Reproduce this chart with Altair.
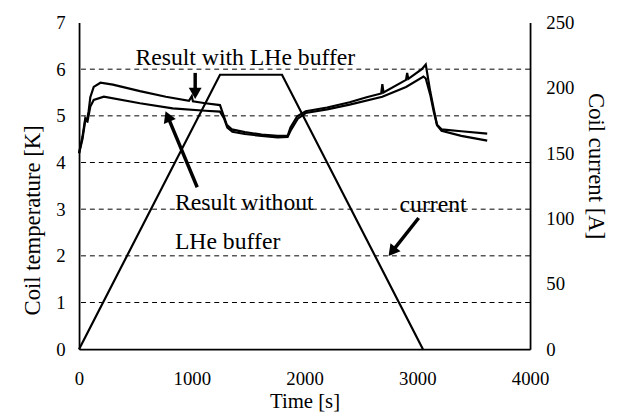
import altair as alt
import pandas as pd

# ---- data ----
time_with = [0, 30, 55, 70, 85, 100, 130, 190, 300, 540, 770, 975, 1000, 1010, 1120, 1250,
             1280, 1310, 1355, 1470, 1620, 1760, 1850, 1875, 1935, 2010, 2200, 2400, 2550,
             2680, 2690, 2700, 2900, 2910, 2920, 3040, 3075, 3115, 3145, 3175, 3215, 3390, 3620]
temp_with = [4.2, 4.55, 4.95, 4.9, 5.1, 5.4, 5.62, 5.71, 5.67, 5.53, 5.41, 5.32, 5.42, 5.31, 5.27, 5.23,
             5.02, 4.81, 4.71, 4.65, 4.60, 4.57, 4.57, 4.75, 4.99, 5.10, 5.18, 5.29, 5.40,
             5.48, 5.68, 5.50, 5.77, 5.92, 5.79, 6.0, 6.10, 5.52, 5.16, 4.81, 4.71, 4.67, 4.62]

time_without = [0, 30, 55, 75, 100, 130, 220, 540, 830, 1120, 1250, 1285, 1315, 1360, 1470,
                1620, 1760, 1850, 1880, 1940, 2010, 2200, 2400, 2690, 2900, 3055, 3075, 3115,
                3145, 3175, 3215, 3390, 3620]
temp_without = [4.2, 4.5, 4.9, 4.88, 5.2, 5.34, 5.41, 5.27, 5.16, 5.11, 5.09, 4.95, 4.75, 4.66, 4.61,
                4.57, 4.54, 4.55, 4.70, 4.94, 5.06, 5.14, 5.24, 5.41, 5.62, 5.84, 5.80, 5.45,
                5.10, 4.80, 4.68, 4.57, 4.47]

current_time = [0, 1250, 1800, 3050]
current_amp = [0, 210, 210, 0]

grid_levels = [1, 2, 3, 4, 5, 6]
x_ticks = [0, 1000, 2000, 3000, 4000]
left_ticks = [0, 1, 2, 3, 4, 5, 6, 7]
right_ticks = [0, 50, 100, 150, 200, 250]

label_center = ["Result with LHe buffer", "current"]
label_center_t = [1475, 3140]
label_center_T = [6.09, 2.94]

label_left = ["Result without", "LHe buffer"]
label_left_t = [850, 850]
label_left_T = [2.98, 2.14]

arrow_t = [1030, 1048, 3012]
arrow_T = [5.92, 3.47, 2.81]
arrow_t2 = [1030, 786, 2776]
arrow_T2 = [5.48, 4.99, 2.09]
arrow_angle = [180, 337.4, 218.5]

# ---- tables ----
df_temp = pd.DataFrame({
    "t": time_with + time_without,
    "T": temp_with + temp_without,
    "series": ["with"] * len(time_with) + ["without"] * len(time_without),
})
df_cur = pd.DataFrame({"t": current_time, "I": current_amp})
df_grid = pd.DataFrame({"level": grid_levels})
df_lc = pd.DataFrame({"t": label_center_t, "T": label_center_T, "label": label_center})
df_ll = pd.DataFrame({"t": label_left_t, "T": label_left_T, "label": label_left})
df_arrow = pd.DataFrame({"t": arrow_t, "T": arrow_T, "t2": arrow_t2, "T2": arrow_T2, "angle": arrow_angle})

FONT = "Liberation Serif"

xscale = alt.Scale(domain=[0, 4000], nice=False, zero=False)
yscale = alt.Scale(domain=[0, 7], nice=False)

x_enc = alt.X("t:Q", scale=xscale, axis=alt.Axis(
    title="Time [s]", values=x_ticks, format="d", labelFlush=False, labelOverlap=False,
    labelPadding=21, titlePadding=2, titleFontSize=21, grid=False, ticks=False))

grid = alt.Chart(df_grid).mark_rule(color="black", strokeDash=[5, 4], strokeWidth=1).encode(
    y=alt.Y("level:Q", scale=yscale)
)

temp_lines = alt.Chart(df_temp).mark_line(color="black", strokeWidth=2.2).encode(
    x=x_enc,
    y=alt.Y("T:Q", scale=yscale, axis=alt.Axis(
        title="Coil temperature [K]", values=left_ticks, format="d", grid=False, ticks=False,
        labelPadding=14, titlePadding=12, titleY=200)),
    detail="series:N",
    order="t:Q",
)

txt_c = alt.Chart(df_lc).mark_text(font=FONT, fontSize=24, align="center", baseline="alphabetic", color="black").encode(
    x=alt.X("t:Q", scale=xscale), y=alt.Y("T:Q", scale=yscale), text="label:N")
txt_l = alt.Chart(df_ll).mark_text(font=FONT, fontSize=24, align="left", baseline="alphabetic", color="black").encode(
    x=alt.X("t:Q", scale=xscale), y=alt.Y("T:Q", scale=yscale), text="label:N")

shafts = alt.Chart(df_arrow).mark_rule(color="black", strokeWidth=3.5).encode(
    x=alt.X("t:Q", scale=xscale), y=alt.Y("T:Q", scale=yscale), x2="t2:Q", y2="T2:Q")
heads = alt.Chart(df_arrow).mark_point(shape="triangle-up", filled=True, color="black", size=170, opacity=1).encode(
    x=alt.X("t2:Q", scale=xscale), y=alt.Y("T2:Q", scale=yscale), angle=alt.Angle("angle:Q", scale=None))

left = alt.layer(grid, temp_lines, txt_c, txt_l, shafts, heads)

current = alt.Chart(df_cur).mark_line(color="black", strokeWidth=2.2).encode(
    x=alt.X("t:Q", scale=xscale),
    y=alt.Y("I:Q", scale=alt.Scale(domain=[0, 250], nice=False), axis=alt.Axis(
        title="Coil current [A]", orient="right", values=right_ticks, format="d", grid=False, ticks=False,
        labelPadding=16, titlePadding=10, titleY=145)),
)

chart = alt.layer(left, current).resolve_scale(y="independent").properties(
    width=457, height=331,
    autosize=alt.AutoSizeParams(type="none"),
    padding={"left": 72, "top": 12, "right": 80, "bottom": 64},
    background="white",
).configure_view(stroke=None).configure_axis(
    labelFont=FONT, titleFont=FONT, labelFontSize=19, titleFontSize=23,
    labelColor="black", titleColor="black", titleFontWeight="normal",
    domainColor="black", domainWidth=1.8,
)

chart.save("out.html", embed_options={"renderer": "svg", "actions": False})
